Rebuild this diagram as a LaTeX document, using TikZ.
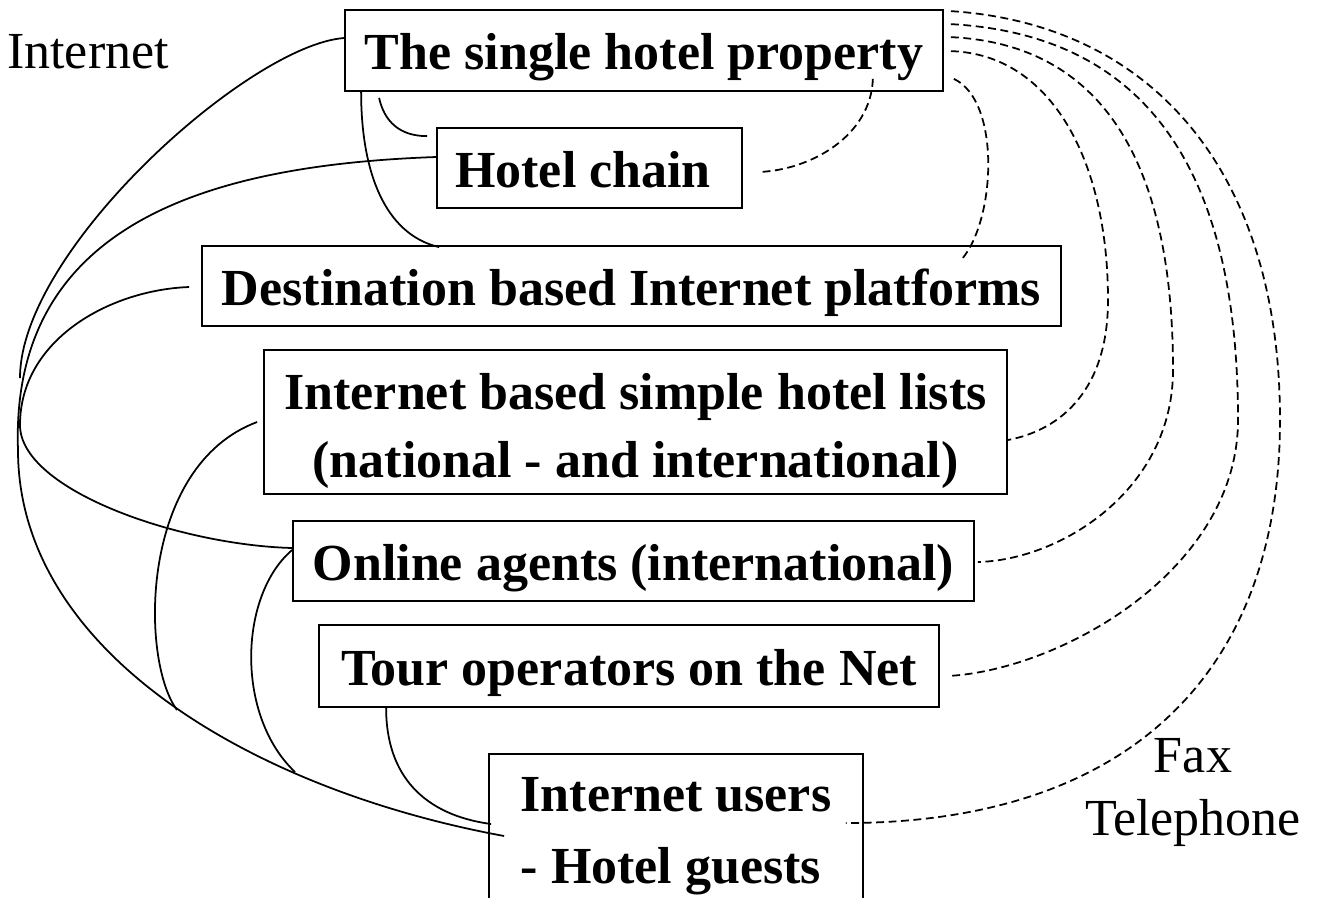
\documentclass[tikz,border=0pt]{standalone}
\usepackage{fontspec}
\setmainfont{Liberation Serif}

\begin{document}
\begin{tikzpicture}[line width=1pt,
    box/.style={draw, inner sep=0pt, font=\fontsize{29.6}{38.6}\selectfont\bfseries},
    oneline/.style={box, text height=28pt, text depth=6pt},
    tag/.style={font=\fontsize{29.6}{36.4}\selectfont},
    tel/.style={dash pattern=on 4.5pt off 2.6pt}]
    \useasboundingbox (0,0) rectangle (26.34,-17.94);
    \clip (0,0) rectangle (26.34,-17.94);
    \node[oneline, minimum width=11.96cm, minimum height=1.62cm] (single) at (12.88,-1.01) {The single hotel property};
    \node[oneline, minimum width=6.10cm, minimum height=1.60cm] (chain) at (11.79,-3.36) {Hotel chain\kern.25em};
    \node[oneline, minimum width=17.18cm, minimum height=1.60cm] (dest) at (12.63,-5.72) {Destination based Internet platforms};
    \node[box, align=center, text height=68.6pt, text depth=6pt, minimum width=14.86cm, minimum height=2.88cm] (lists) at (12.71,-8.44) {Internet based simple hotel lists\\(national - and international)};
    \node[oneline, minimum width=13.62cm, minimum height=1.60cm] (agents) at (12.67,-11.22) {Online agents (international)};
    \node[oneline, minimum width=12.40cm, minimum height=1.64cm] (tour) at (12.58,-13.32) {Tour operators on the Net};
    \node[box, align=left, font=\fontsize{29.6}{41}\selectfont\bfseries, minimum width=7.48cm, minimum height=3.28cm] (users) at (13.52,-16.72) {Internet users\\- Hotel guests};
    \node[tag, anchor=base] (inet) at (1.76,-1.36) {Internet};
    \node[tag, align=center] (fax) at (23.86,-15.85) {Fax\\Telephone};
    \coordinate (inetA) at (0.40,-7.56);
    \coordinate (joinL) at (3.54,-14.20);
    \coordinate (joinA) at (5.90,-15.44);
    \draw ([yshift=0.25cm]single.west) .. controls +(-1.9,-0.14) and +(0,2.56) .. (inetA);
    \draw ([yshift=0.22cm]chain.west) .. controls +(-4.6,-0.16) and +(-0.16,4.5) .. (0.36,-9.0)
        .. controls +(0,-4.0) and +(-5.1,0.94) .. ([xshift=0.32cm]users.west);
    \draw ([xshift=-0.24cm,yshift=-0.02cm]dest.west) .. controls +(-1.6,-0.06) and +(0,1.7) .. (0.40,-8.50)
        .. controls +(0,-1.3) and +(-2.26,0.06) .. ([yshift=0.26cm]agents.west);
    \draw ([xshift=-0.12cm]lists.west) .. controls +(-2.36,-0.88) and +(-0.74,1.0) .. (joinL);
    \draw ([yshift=0.22cm]agents.west) .. controls +(-1.06,-0.9) and +(-1.2,1.14) .. (joinA);
    \draw ([xshift=1.36cm]tour.south west) .. controls +(0,-1.36) and +(-1.34,0.18) .. ([xshift=0.06cm,yshift=0.24cm]users.west);
    \draw ([xshift=0.70cm,yshift=-0.12cm]single.south west) .. controls +(0.1,-0.46) and +(-0.56,0) .. ([xshift=-0.18cm,yshift=-0.18cm]chain.north west);
    \draw ([xshift=0.34cm]single.south west) .. controls +(0,-1.58) and +(-1.1,0.26) .. ([xshift=4.76cm,yshift=-0.04cm]dest.north west);
    \draw[tel] ([xshift=0.14cm,yshift=-0.04cm]single.north east) .. controls +(4.0,-0.26) and +(0,5.0) .. (25.60,-8.40)
        .. controls +(0,-5.2) and +(5.5,0) .. ([xshift=-0.36cm,yshift=0.26cm]users.east);
    \draw[tel] ([xshift=0.14cm,yshift=-0.30cm]single.north east) .. controls +(3.6,-0.2) and +(0,5.4) .. (24.76,-8.40)
        .. controls +(0,-3.0) and +(2.26,0.12) .. ([xshift=0.16cm,yshift=-0.20cm]tour.east);
    \draw[tel] ([xshift=0.14cm,yshift=-0.56cm]single.north east) .. controls +(3.0,-0.14) and +(0,4.2) .. (23.46,-7.40)
        .. controls +(0,-2.4) and +(1.66,0.04) .. ([xshift=0.06cm,yshift=-0.02cm]agents.east);
    \draw[tel] ([xshift=0.14cm,yshift=-0.84cm]single.north east) .. controls +(2.0,-0.06) and +(0,2.8) .. (22.16,-6.00)
        .. controls +(0,-1.8) and +(1.06,0.2) .. ([yshift=-0.36cm]lists.east);
    \draw[tel] ([xshift=0.20cm,yshift=0.26cm]single.south east) .. controls +(0.94,-0.44) and +(0.68,0.8) .. ([xshift=-2.0cm,yshift=-0.28cm]dest.north east);
    \draw[tel] ([xshift=-1.42cm,yshift=0.26cm]single.south east) .. controls +(-0.04,-1.14) and +(1.04,0.04) .. ([xshift=0.32cm,yshift=-0.08cm]chain.east);
  \end{tikzpicture}
\end{document}
